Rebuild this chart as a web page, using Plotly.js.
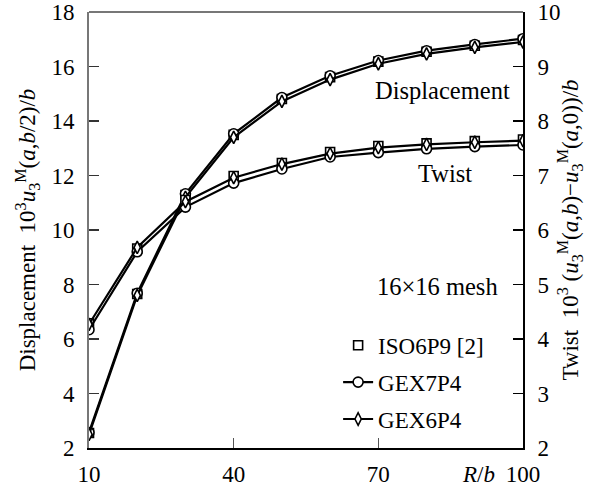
<!DOCTYPE html>
<html>
<head>
<meta charset="utf-8">
<script src="https://cdn.plot.ly/plotly-3.0.1.min.js"></script>
<style>html,body{margin:0;padding:0;background:#fff;}#chart{width:598px;height:490px;}</style>
</head>
<body>
<div id="chart"></div>
<script>
// R/b values
const R = [10, 20, 30, 40, 50, 60, 70, 80, 90, 100];
// Displacement 10^3 u3M(a,b/2)/b (left axis)
const dispISO = [2.55, 7.65, 11.28, 13.49, 14.81, 15.61, 16.18, 16.54, 16.76, 16.97];
const dispG7  = [2.57, 7.68, 11.33, 13.53, 14.86, 15.66, 16.22, 16.58, 16.81, 17.02];
const dispG6  = [2.50, 7.60, 11.20, 13.40, 14.72, 15.52, 16.10, 16.46, 16.70, 16.90];
// Twist 10^3 (u3M(a,b)-u3M(a,0))/b (right axis)
const twistISO = [4.29, 5.66, 6.55, 6.99, 7.23, 7.43, 7.54, 7.59, 7.63, 7.66];
const twistG7  = [4.17, 5.60, 6.42, 6.86, 7.12, 7.34, 7.42, 7.49, 7.53, 7.56];
const twistG6  = [4.27, 5.68, 6.52, 6.96, 7.21, 7.40, 7.51, 7.57, 7.61, 7.64];
// tick labels
const xTicks = [10, 40, 70, 100];
const yTicks = [2, 4, 6, 8, 10, 12, 14, 16, 18];
const y2Ticks = [2, 3, 4, 5, 6, 7, 8, 9, 10];
const names = ['ISO6P9 [2]', 'GEX7P4', 'GEX6P4'];

const FONT = 'Liberation Serif';

function series(name, y, yaxis, mode, symbol, size, showlegend) {
  return {
    x: R, y: y, yaxis: yaxis, name: name, mode: mode,
    legendgroup: name, showlegend: showlegend,
    line: {color: '#000', width: 2.2},
    marker: {symbol: symbol, size: size, color: '#fff', line: {color: '#000', width: 1.6}}
  };
}

const traces = [
  series(names[0], dispISO, 'y', 'markers', 'square', 9, true),
  series(names[0], twistISO, 'y2', 'markers', 'square', 9, false),
  series(names[1], dispG7, 'y', 'lines+markers', 'circle', 10, true),
  series(names[1], twistG7, 'y2', 'lines+markers', 'circle', 10, false),
  series(names[2], dispG6, 'y', 'lines+markers', 'diamond-tall', 9, true),
  series(names[2], twistG6, 'y2', 'lines+markers', 'diamond-tall', 9, false)
];

const layout = {
  width: 598, height: 490,
  margin: {l: 89, r: 75, t: 12, b: 42},
  paper_bgcolor: '#fff', plot_bgcolor: '#fff',
  font: {family: FONT, size: 23, color: '#000'},
  showlegend: true,
  legend: {x: 0.574, y: 0.285, xanchor: 'left', yanchor: 'top',
           bgcolor: 'rgba(0,0,0,0)', tracegroupgap: 4,
           font: {family: FONT, size: 23, color: '#000'}},
  xaxis: {
    range: [10, 100], tickvals: xTicks, ticktext: xTicks.map(String),
    ticks: 'inside', ticklen: 10, tickwidth: 1.5, tickcolor: '#555',
    showgrid: false, zeroline: false, showline: true, linecolor: '#000', linewidth: 2,
    ticklabelstandoff: 4,
    tickfont: {family: FONT, size: 23}
  },
  yaxis: {
    range: [2, 18], tickvals: yTicks, ticktext: yTicks.map(String),
    ticks: 'inside', ticklen: 10, tickwidth: 1.5, tickcolor: '#333',
    showgrid: false, zeroline: false, showline: true, linecolor: '#777', linewidth: 2,
    ticklabelstandoff: 8,
    tickfont: {family: FONT, size: 23},
    title: {text: 'Displacement\u00a0\u00a010<sup>3</sup><i>u</i><sub>3</sub><sup>M</sup>(<i>a</i>,<i>b</i>/2)/<i>b</i>',
            font: {family: FONT, size: 23}, standoff: 9}
  },
  yaxis2: {
    overlaying: 'y', side: 'right',
    range: [2, 10], tickvals: y2Ticks, ticktext: y2Ticks.map(String),
    ticks: 'inside', ticklen: 10, tickwidth: 1.5, tickcolor: '#000',
    showgrid: false, zeroline: false, showline: true, linecolor: '#000', linewidth: 2,
    ticklabelstandoff: 8,
    tickfont: {family: FONT, size: 23},
    title: {text: 'Twist\u00a0\u00a010<sup>3</sup>\u00a0(<i>u</i><sub>3</sub><sup>M</sup>(<i>a</i>,<i>b</i>)\u2212<i>u</i><sub>3</sub><sup>M</sup>(<i>a</i>,0))/<i>b</i>',
            font: {family: FONT, size: 23}, standoff: 2}
  },
  shapes: [
    {type: 'line', xref: 'paper', yref: 'paper', x0: 0, x1: 1, y0: 1, y1: 1,
     line: {color: '#777', width: 2}}
  ],
  annotations: [
    {text: 'Displacement', xref: 'paper', yref: 'paper', x: 0.815, y: 0.82,
     showarrow: false, xanchor: 'center', yanchor: 'middle', font: {family: FONT, size: 24.5}},
    {text: 'Twist', xref: 'paper', yref: 'paper', x: 0.82, y: 0.63,
     showarrow: false, xanchor: 'center', yanchor: 'middle', font: {family: FONT, size: 24.5}},
    {text: '16\u00d716 mesh', xref: 'paper', yref: 'paper', x: 0.802, y: 0.37,
     showarrow: false, xanchor: 'center', yanchor: 'middle', font: {family: FONT, size: 24.5}},
    {text: '<i>R</i>/<i>b</i>', xref: 'paper', yref: 'paper', x: 0.898, y: -0.06,
     showarrow: false, xanchor: 'center', yanchor: 'middle', font: {family: FONT, size: 23}}
  ]
};

Plotly.newPlot('chart', traces, layout, {displayModeBar: false, staticPlot: true});
</script>
</body>
</html>
